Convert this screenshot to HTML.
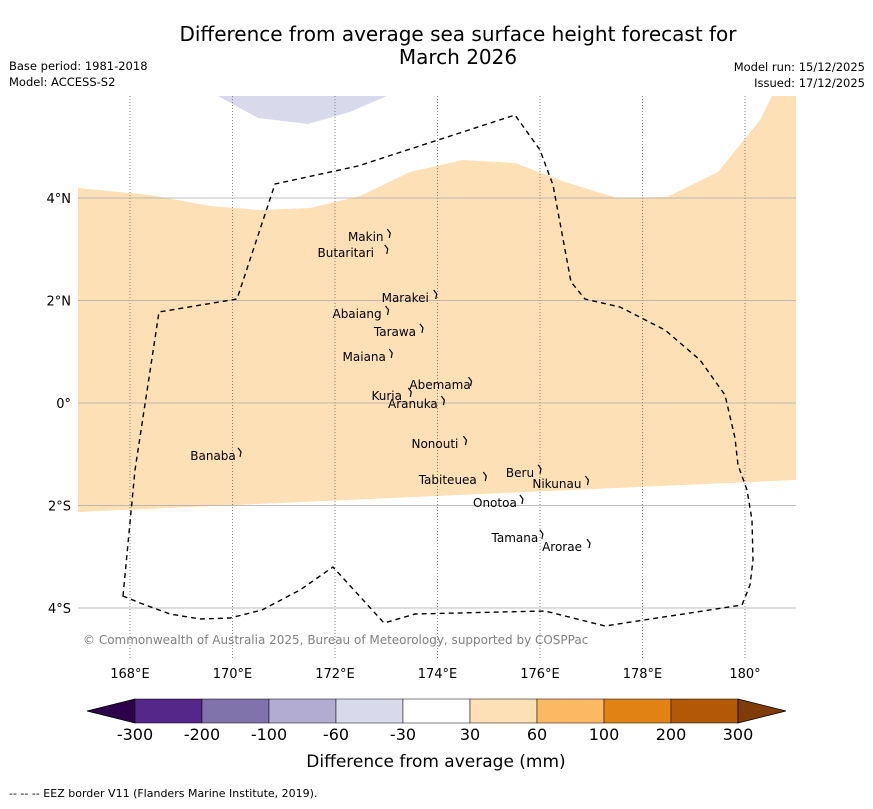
<!DOCTYPE html>
<html><head><meta charset="utf-8"><style>
body{margin:0;background:#fff;font-family:"Liberation Sans","DejaVu Sans",sans-serif;}
svg text{font-family:"DejaVu Sans","Liberation Sans",sans-serif;}
</style></head><body>
<svg id="chart" width="873" height="804" viewBox="0 0 873 804" xmlns="http://www.w3.org/2000/svg">
<text x="458" y="41" font-size="20" text-anchor="middle">Difference from average sea surface height forecast for</text>
<text x="458" y="64" font-size="20" text-anchor="middle">March 2026</text>
<text x="9" y="70" font-size="11.5">Base period: 1981-2018</text>
<text x="9" y="86" font-size="11.5">Model: ACCESS-S2</text>
<text x="865" y="71" font-size="11.5" text-anchor="end">Model run: 15/12/2025</text>
<text x="865" y="87" font-size="11.5" text-anchor="end">Issued: 17/12/2025</text>
<defs><clipPath id="mapclip"><rect x="78" y="96" width="718" height="562"/></clipPath></defs>
<g id="map" clip-path="url(#mapclip)">
<path fill="#fee0b6" d="M78,188 L150,195 L210,206 L260,210 L310,208 L360,196 L410,172 L463,160 L515,163 L565,182 L617,198 L667,197 L718,172 L760,120 L772,96 L796,96 L796,480 L78,512 Z"/>
<path fill="#d8daeb" d="M218,96 L258,118 L308,124 L350,112 L387,96 Z"/>
<g id="grid"></g>
<path fill="none" stroke="#000" stroke-width="1.4" stroke-dasharray="5,4" d="M123,596 L135,470 L159,312 L237,299 L275,184 L358,166 L515,115 L540,150 L553,185 L571,282 L585,299 L620,307 L665,330 L700,360 L725,395 L735,438 L738,465 L747,490 L752,520 L753,560 L750,585 L742,605 L605,626 L545,611 L415,614 L384,623 L333,567 L300,590 L262,610 L230,618 L200,619 L170,614 L140,603 Z"/>
<g id="islands" stroke="#000" stroke-width="1.2" fill="none"></g>
<text x="83" y="644" font-size="12" fill="#808080">© Commonwealth of Australia 2025, Bureau of Meteorology, supported by COSPPac</text>
</g>
<g id="axes"></g>
<g id="colorbar"></g>
<text x="436" y="767" font-size="17" text-anchor="middle">Difference from average (mm)</text>
<text x="9" y="797" font-size="11">--  --  -- EEZ border V11 (Flanders Marine Institute, 2019).</text>
</svg>
<script>
var lonTicks=[168,170,172,174,176,178,180];
var latTicks=[4,2,0,-2,-4];
var cbLevels=["-300","-200","-100","-60","-30","30","60","100","200","300"];
var cbColors=["#2d004b","#542788","#8073ac","#b2abd2","#d8daeb","#ffffff","#fee0b6","#fdb863","#e08214","#b35806","#7f3b08"];
var islandNames=["Makin","Butaritari","Marakei","Abaiang","Tarawa","Maiana","Abemama","Kuria","Aranuka","Nonouti","Banaba","Tabiteuea","Beru","Nikunau","Onotoa","Tamana","Arorae"];
var islandLon=[172.60,172.21,173.37,172.43,173.17,172.57,174.05,173.01,173.52,173.95,169.62,174.20,175.61,176.33,175.12,175.51,176.43];
var islandLat=[3.16,2.85,1.97,1.66,1.31,0.82,0.27,0.06,-0.10,-0.88,-1.11,-1.58,-1.44,-1.66,-2.03,-2.71,-2.89];
var ns="http://www.w3.org/2000/svg";
function X(lon){return 130+(lon-168)*51.25;}
function Y(lat){return 403-lat*51.25;}
function mk(t,a,p){var e=document.createElementNS(ns,t);for(var k in a)e.setAttribute(k,a[k]);p.appendChild(e);return e;}
var grid=document.getElementById('grid'),axes=document.getElementById('axes');
lonTicks.forEach(function(v){
 var l=mk('line',{x1:X(v),x2:X(v),y1:96,y2:658,stroke:'#555','stroke-width':0.7,'stroke-dasharray':'1,2'},grid);
 
 
 var t=mk('text',{x:X(v),y:678,'font-size':13,'text-anchor':'middle'},axes);
 t.textContent=v==180?'180°':v+'°E';
 
 
});
latTicks.forEach(function(v){
 var l=mk('line',{x1:78,x2:796,y1:Y(v),y2:Y(v),stroke:'#aaa','stroke-width':0.8},grid);
 
 
 var t=mk('text',{x:71,y:Y(v)+5,'font-size':13,'text-anchor':'end'},axes);
 t.textContent=v==0?'0°':Math.abs(v)+'°'+(v>0?'N':'S');
 
 
});
var isl=document.getElementById('islands');
islandNames.forEach(function(n,i){
 var x=X(islandLon[i]),y=Y(islandLat[i]);
 var p=mk('path',{d:'M'+(x+n.length*3.5+4)+','+(y-12)+' l3,4 l-1,5'},isl);
 
 
 var t=mk('text',{x:x,y:y,'font-size':12,'text-anchor':'middle',stroke:'none',fill:'#000'},isl);
 t.textContent=n;
 
 
});
var cb=document.getElementById('colorbar');
var x0=135,w=67,y0=699,h=24;
var lt=mk('polygon',{points:'87,'+(y0+h/2)+' '+x0+','+y0+' '+x0+','+(y0+h),fill:cbColors[0],stroke:'#000','stroke-width':0.8},cb);


for(var i=0;i<cbLevels.length-1;i++){
 var r=mk('rect',{x:x0+i*w,y:y0,width:w,height:h,fill:cbColors[i+1],stroke:'#000','stroke-width':0.5},cb);
 
 
}
var xe=x0+(cbLevels.length-1)*w;
var rt=mk('polygon',{points:xe+','+y0+' '+(xe+48)+','+(y0+h/2)+' '+xe+','+(y0+h),fill:cbColors[cbColors.length-1],stroke:'#000','stroke-width':0.8},cb);


cbLevels.forEach(function(s,i){
 var t=mk('text',{x:x0+i*w,y:740,'font-size':16,'text-anchor':'middle'},cb);
 t.textContent=s;
 
 
});
</script>
</body></html>
